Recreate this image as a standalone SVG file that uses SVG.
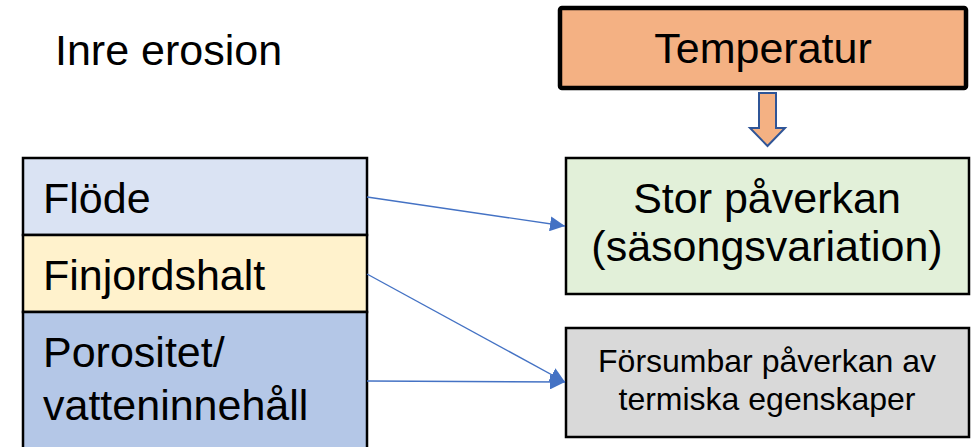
<svg xmlns="http://www.w3.org/2000/svg" width="976" height="447" viewBox="0 0 976 447">
<style>
text{font-family:"Liberation Sans",Arial,sans-serif;fill:#000}
.big{font-size:43px}
.small{font-size:32px}
.box{stroke:#000;stroke-width:2.5}
.conn{stroke:#4472C4;stroke-width:1.4;fill:none}
</style>
<defs>
<marker id="ah" viewBox="0 0 10 10" refX="10" refY="5" markerWidth="15" markerHeight="15" markerUnits="userSpaceOnUse" orient="auto">
<path d="M0,0 L10,5 L0,10 z" fill="#4472C4"/>
</marker>
</defs>
<rect width="976" height="447" fill="#fff"/>
<g id="title"><text class="big" x="55" y="65">Inre erosion</text></g>
<g id="temperatur">
<rect x="560" y="8" width="406" height="80" rx="2" fill="#F4B183" stroke="#000" stroke-width="4.5"/>
<text class="big" x="763" y="63" text-anchor="middle">Temperatur</text>
</g>
<g id="temp-arrow">
<polygon points="759,93 776,93 776,128 785,128 767.5,146 750,128 759,128" fill="#F4B183" stroke="#2F5597" stroke-width="2"/>
</g>
<g id="flode">
<rect class="box" x="23" y="158" width="344" height="77" fill="#DAE3F3"/>
<text class="big" x="43" y="213">Flöde</text>
</g>
<g id="finjordshalt">
<rect class="box" x="23" y="235" width="344" height="77" fill="#FFF2CC"/>
<text class="big" x="43" y="290">Finjordshalt</text>
</g>
<g id="porositet">
<rect class="box" x="23" y="312" width="344" height="150" fill="#B4C7E7"/>
<text class="big" x="43" y="367">Porositet/</text>
<text class="big" x="43" y="420">vatteninnehåll</text>
</g>
<g id="stor">
<rect class="box" x="566" y="158" width="403" height="136" fill="#E2F0D9"/>
<text class="big" x="767" y="213" text-anchor="middle">Stor påverkan</text>
<text class="big" x="767" y="261" text-anchor="middle">(säsongsvariation)</text>
</g>
<g id="forsumbar">
<rect class="box" x="566" y="328" width="403" height="109" fill="#D9D9D9"/>
<text class="small" x="767" y="372" text-anchor="middle">Försumbar påverkan av</text>
<text class="small" x="767" y="410" text-anchor="middle">termiska egenskaper</text>
</g>
<g id="connectors">
<line class="conn" x1="367" y1="197" x2="565" y2="226" marker-end="url(#ah)"/>
<line class="conn" x1="367" y1="274" x2="565" y2="382" marker-end="url(#ah)"/>
<line class="conn" x1="367" y1="381" x2="565" y2="382" marker-end="url(#ah)"/>
</g>
</svg>
